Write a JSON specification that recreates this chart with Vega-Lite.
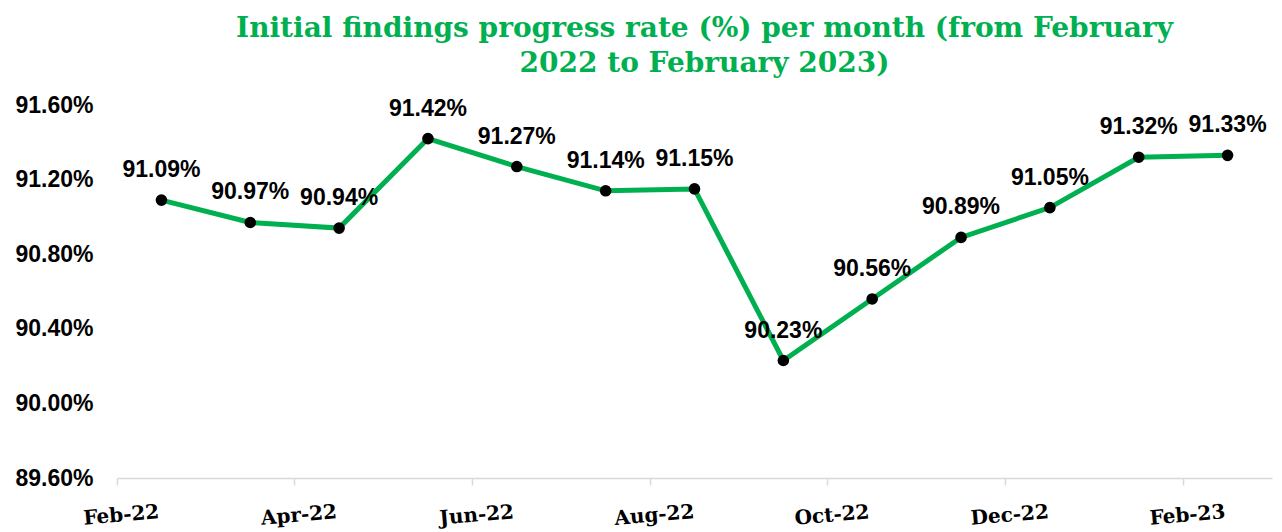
{
  "$schema": "https://vega.github.io/schema/vega-lite/v6.json",
  "autosize": {"type": "none"},
  "width": 1155,
  "height": 373,
  "padding": {"left": 117, "top": 105, "right": 10, "bottom": 54},
  "background": "white",
  "view": {"stroke": null},
  "title": {
    "text": ["Initial findings progress rate  (%) per month (from February", "2022 to February 2023)"],
    "font": "DejaVu Serif",
    "fontWeight": "bold",
    "fontSize": 28,
    "color": "#00B050",
    "anchor": "middle",
    "dx": 10,
    "offset": 16,
    "lineHeight": 35
  },
  "data": {
    "values": [
      {"month": "Feb-22", "rate": 0.9109},
      {"month": "Mar-22", "rate": 0.9097},
      {"month": "Apr-22", "rate": 0.9094},
      {"month": "May-22", "rate": 0.9142},
      {"month": "Jun-22", "rate": 0.9127},
      {"month": "Jul-22", "rate": 0.9114},
      {"month": "Aug-22", "rate": 0.9115},
      {"month": "Sep-22", "rate": 0.9023},
      {"month": "Oct-22", "rate": 0.9056},
      {"month": "Nov-22", "rate": 0.9089},
      {"month": "Dec-22", "rate": 0.9105},
      {"month": "Jan-23", "rate": 0.9132},
      {"month": "Feb-23", "rate": 0.9133}
    ]
  },
  "encoding": {
    "x": {
      "field": "month",
      "type": "ordinal",
      "sort": null,
      "scale": {"type": "band", "paddingInner": 0, "paddingOuter": 0},
      "axis": {
        "title": null,
        "values": ["Feb-22", "Apr-22", "Jun-22", "Aug-22", "Oct-22", "Dec-22", "Feb-23"],
        "bandPosition": 0,
        "domainColor": "#d9d9d9",
        "domainWidth": 1.5,
        "tickColor": "#d9d9d9",
        "tickWidth": 1.5,
        "tickSize": 7,
        "labelAngle": -5,
        "labelAlign": "center",
        "labelBaseline": "top",
        "labelPadding": 20,
        "labelOffset": -41,
        "labelFont": "DejaVu Serif",
        "labelFontWeight": "bold",
        "labelFontSize": 20,
        "labelColor": "#000000",
        "grid": false
      }
    },
    "y": {
      "field": "rate",
      "type": "quantitative",
      "scale": {"domain": [0.896, 0.916], "zero": false, "nice": false},
      "axis": {
        "title": null,
        "values": [0.896, 0.9, 0.904, 0.908, 0.912, 0.916],
        "format": ".2%",
        "domain": false,
        "ticks": false,
        "grid": false,
        "labelPadding": 24,
        "labelFont": "Liberation Sans",
        "labelFontWeight": "bold",
        "labelFontSize": 23,
        "labelColor": "#000000"
      }
    }
  },
  "layer": [
    {"mark": {"type": "line", "color": "#00B050", "strokeWidth": 5}},
    {"mark": {"type": "point", "filled": true, "color": "#000000", "size": 135, "opacity": 1}},
    {
      "mark": {"type": "text", "font": "Liberation Sans", "fontWeight": "bold", "fontSize": 23, "color": "#000000", "baseline": "middle", "dy": -30},
      "encoding": {"text": {"field": "rate", "type": "quantitative", "format": ".2%"}}
    }
  ]
}
